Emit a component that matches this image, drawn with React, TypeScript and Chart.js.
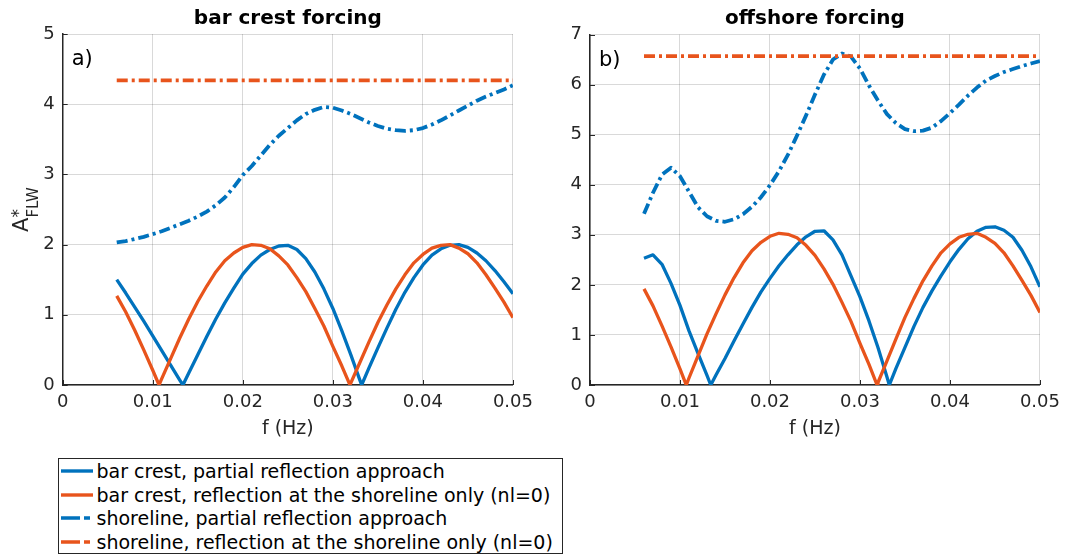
import React, { useEffect, useRef } from "react";
import { Chart, registerables } from "chart.js";

Chart.register(...registerables);

const FONT = "'DejaVu Sans', 'Liberation Sans', sans-serif";
const BLUE = "#0072BD";
const ORANGE = "#E8541C";
const AXIS = "#262626";
const GRID = "rgba(0,0,0,0.15)";

// Common frequency grid (Hz)
const freq = [
  0.006, 0.007, 0.008, 0.009, 0.010, 0.011, 0.012, 0.013, 0.014, 0.015, 0.016,
  0.017, 0.018, 0.019, 0.020, 0.021, 0.022, 0.023, 0.024, 0.025, 0.026, 0.027,
  0.028, 0.029, 0.030, 0.031, 0.032, 0.033, 0.034, 0.035, 0.036, 0.037, 0.038,
  0.039, 0.040, 0.041, 0.042, 0.043, 0.044, 0.045, 0.046, 0.047, 0.048, 0.049, 0.050,
];
const freqEnds = [0.006, 0.05];

// ---- a) bar crest forcing ----
const freqBarPartialA = [
  0.006, 0.007, 0.008, 0.009, 0.010, 0.011, 0.012, 0.013, 0.01335,
  0.014, 0.015, 0.016, 0.017, 0.018, 0.019, 0.020, 0.021, 0.022, 0.023, 0.024,
  0.025, 0.026, 0.027, 0.028, 0.029, 0.030, 0.031, 0.032, 0.033, 0.0332,
  0.034, 0.035, 0.036, 0.037, 0.038, 0.039, 0.040, 0.041, 0.042, 0.043, 0.044,
  0.045, 0.046, 0.047, 0.048, 0.049, 0.050,
];
const barPartialA = [
  1.50, 1.31, 1.11, 0.91, 0.70, 0.49, 0.28, 0.07, 0,
  0.17, 0.43, 0.69, 0.94, 1.17, 1.38, 1.58, 1.73, 1.85, 1.93, 1.98,
  1.99, 1.93, 1.80, 1.61, 1.37, 1.09, 0.77, 0.43, 0.07, 0,
  0.24, 0.53, 0.81, 1.08, 1.32, 1.53, 1.71, 1.85, 1.94, 1.99, 2.00,
  1.96, 1.88, 1.77, 1.63, 1.47, 1.30,
];
const freqShoreOnlyBar = [
  0.006, 0.007, 0.008, 0.009, 0.010, 0.0107,
  0.011, 0.012, 0.013, 0.014, 0.015, 0.016, 0.017, 0.018, 0.019, 0.020, 0.021,
  0.022, 0.023, 0.024, 0.025, 0.026, 0.027, 0.028, 0.029, 0.030, 0.031, 0.0319,
  0.032, 0.033, 0.034, 0.035, 0.036, 0.037, 0.038, 0.039, 0.040, 0.041, 0.042,
  0.043, 0.044, 0.045, 0.046, 0.047, 0.048, 0.049, 0.050,
];
const barShoreOnlyA = [
  1.27, 1.04, 0.78, 0.50, 0.21, 0,
  0.09, 0.38, 0.67, 0.94, 1.19, 1.41, 1.61, 1.77, 1.88, 1.96, 2.00,
  1.99, 1.94, 1.84, 1.71, 1.53, 1.33, 1.09, 0.84, 0.55, 0.27, 0,
  0.03, 0.32, 0.61, 0.89, 1.14, 1.37, 1.57, 1.74, 1.86, 1.95, 1.99,
  2.00, 1.95, 1.87, 1.74, 1.57, 1.38, 1.18, 0.96,
];
const shorePartialA = [
  2.03, 2.05, 2.08, 2.11, 2.15, 2.19, 2.24, 2.29, 2.34, 2.40, 2.47,
  2.56, 2.67, 2.82, 2.99, 3.12, 3.27, 3.42, 3.55, 3.66, 3.77, 3.86,
  3.92, 3.96, 3.95, 3.91, 3.86, 3.80, 3.74, 3.69, 3.65, 3.63, 3.62,
  3.63, 3.66, 3.71, 3.77, 3.84, 3.91, 3.98, 4.05, 4.11, 4.16, 4.21, 4.27,
];
const shoreOnlyA = [4.34, 4.34];

// ---- b) offshore forcing ----
const freqBarPartialB = [
  0.006, 0.007, 0.008, 0.009, 0.010, 0.011, 0.012, 0.013, 0.01342,
  0.014, 0.015, 0.016, 0.017, 0.018, 0.019, 0.020, 0.021, 0.022, 0.023, 0.024,
  0.025, 0.026, 0.027, 0.028, 0.029, 0.030, 0.031, 0.032, 0.033, 0.03326,
  0.034, 0.035, 0.036, 0.037, 0.038, 0.039, 0.040, 0.041, 0.042, 0.043, 0.044,
  0.045, 0.046, 0.047, 0.048, 0.049, 0.050,
];
const barPartialB = [
  2.53, 2.60, 2.41, 2.03, 1.59, 1.08, 0.63, 0.19, 0,
  0.20, 0.53, 0.88, 1.22, 1.55, 1.86, 2.13, 2.38, 2.60, 2.80, 2.96,
  3.07, 3.08, 2.90, 2.60, 2.18, 1.76, 1.28, 0.75, 0.16, 0,
  0.33, 0.75, 1.17, 1.55, 1.88, 2.18, 2.46, 2.71, 2.92, 3.07, 3.15,
  3.16, 3.09, 2.95, 2.69, 2.36, 1.96,
];
const barShoreOnlyB = [
  1.92, 1.58, 1.18, 0.76, 0.32, 0,
  0.14, 0.58, 1.02, 1.42, 1.80, 2.14, 2.44, 2.68, 2.85, 2.97, 3.03,
  3.01, 2.94, 2.79, 2.59, 2.32, 2.01, 1.65, 1.27, 0.83, 0.41, 0,
  0.05, 0.48, 0.92, 1.35, 1.73, 2.08, 2.38, 2.64, 2.82, 2.95, 3.01,
  3.03, 2.95, 2.83, 2.64, 2.38, 2.09, 1.79, 1.45,
];
const shorePartialB = [
  3.42, 3.84, 4.20, 4.34, 4.17, 3.86, 3.55, 3.37, 3.28, 3.26, 3.31,
  3.41, 3.56, 3.75, 3.99, 4.27, 4.60, 4.98, 5.38, 5.80, 6.20, 6.50,
  6.62, 6.56, 6.32, 5.98, 5.68, 5.41, 5.23, 5.11, 5.07, 5.08, 5.14,
  5.27, 5.43, 5.60, 5.78, 5.94, 6.08, 6.17, 6.25, 6.31, 6.37, 6.42, 6.47,
];
const shoreOnlyB = [6.57, 6.57];

// ---- axes ----
const xTicks = [0, 0.01, 0.02, 0.03, 0.04, 0.05];
const xTickLabels = ["0", "0.01", "0.02", "0.03", "0.04", "0.05"];
const yTicksA = [0, 1, 2, 3, 4, 5];
const yTicksB = [0, 1, 2, 3, 4, 5, 6, 7];

const legendEntries = [
  { label: "bar crest, partial reflection approach", color: BLUE, dashed: false },
  { label: "bar crest, reflection at the shoreline only (nl=0)", color: ORANGE, dashed: false },
  { label: "shoreline, partial reflection approach", color: BLUE, dashed: true },
  { label: "shoreline, reflection at the shoreline only (nl=0)", color: ORANGE, dashed: true },
];

const xy = (xs: number[], ys: number[]) => xs.map((x, i) => ({ x, y: ys[i] }));

// Titles, axis labels and inward tick marks
const decorations = {
  id: "decorations",
  afterDraw(chart: any, _args: any, opts: any) {
    const { ctx, chartArea: a, scales } = chart;
    ctx.save();
    ctx.strokeStyle = AXIS;
    ctx.lineWidth = 1;
    ctx.beginPath();
    for (const t of scales.x.ticks) {
      const px = Math.round(scales.x.getPixelForValue(t.value)) + 0.5;
      ctx.moveTo(px, a.bottom);
      ctx.lineTo(px, a.bottom - 5);
    }
    for (const t of scales.y.ticks) {
      const py = Math.round(scales.y.getPixelForValue(t.value)) + 0.5;
      ctx.moveTo(a.left, py);
      ctx.lineTo(a.left + 5, py);
    }
    ctx.stroke();

    const cx = (a.left + a.right) / 2;
    ctx.fillStyle = "#000";
    ctx.textAlign = "center";
    ctx.textBaseline = "middle";
    ctx.font = `bold 20px ${FONT}`;
    ctx.fillText(opts.title, cx, 19);

    ctx.fillStyle = AXIS;
    ctx.font = `19px ${FONT}`;
    ctx.fillText("f (Hz)", cx, 429);

    ctx.fillStyle = "#000";
    ctx.textAlign = "left";
    ctx.font = `21px ${FONT}`;
    ctx.fillText(opts.tag, a.left + 9, a.top + 26);

    if (opts.yLabel) {
      ctx.fillStyle = AXIS;
      ctx.translate(28, (a.top + a.bottom) / 2);
      ctx.rotate(-Math.PI / 2);
      ctx.textBaseline = "alphabetic";
      ctx.font = `21px ${FONT}`;
      const wA = ctx.measureText("A").width;
      ctx.font = `15px ${FONT}`;
      const wSub = ctx.measureText("FLW").width;
      const x0 = -(wA + wSub) / 2;
      ctx.font = `21px ${FONT}`;
      ctx.fillText("A", x0, 0);
      ctx.font = `17px ${FONT}`;
      ctx.fillText("*", x0 + wA, -4);
      ctx.font = `15px ${FONT}`;
      ctx.fillText("FLW", x0 + wA, 10);
    }
    ctx.restore();
  },
};

type PanelSpec = {
  title: string;
  tag: string;
  yLabel: boolean;
  yMax: number;
  yTicks: number[];
  yAxisWidth: number;
  padTop: number;
  padRight: number;
  barPartial: { x: number; y: number }[];
  barShoreOnly: { x: number; y: number }[];
  shorePartial: { x: number; y: number }[];
  shoreOnly: { x: number; y: number }[];
};

function buildConfig(p: PanelSpec): any {
  const tickFont = { family: FONT, size: 18 };
  return {
    type: "line",
    data: {
      datasets: [
        { data: p.shoreOnly, borderColor: ORANGE, borderWidth: 3.8, borderDash: [11, 4, 3, 4] },
        { data: p.shorePartial, borderColor: BLUE, borderWidth: 3.8, borderDash: [11, 4, 3, 4] },
        { data: p.barShoreOnly, borderColor: ORANGE, borderWidth: 3.3 },
        { data: p.barPartial, borderColor: BLUE, borderWidth: 3.3 },
      ],
    },
    options: {
      responsive: false,
      animation: false,
      layout: { padding: { top: p.padTop, right: p.padRight, left: 0, bottom: 0 } },
      elements: {
        point: { radius: 0 },
        line: { tension: 0, fill: false, borderCapStyle: "butt", borderJoinStyle: "round" },
      },
      plugins: {
        legend: { display: false },
        tooltip: { enabled: false },
        decorations: { title: p.title, tag: p.tag, yLabel: p.yLabel },
      },
      scales: {
        x: {
          type: "linear",
          min: 0,
          max: 0.05,
          afterBuildTicks: (s: any) => {
            s.ticks = xTicks.map((v) => ({ value: v }));
          },
          afterFit: (s: any) => {
            s.height = 55;
          },
          grid: { color: GRID, drawTicks: false, lineWidth: 1 },
          border: { display: true, color: AXIS, width: 1.5 },
          ticks: {
            padding: 7,
            color: AXIS,
            font: tickFont,
            maxRotation: 0,
            autoSkip: false,
            callback: (_v: any, i: number) => xTickLabels[i],
          },
        },
        y: {
          type: "linear",
          min: 0,
          max: p.yMax,
          afterBuildTicks: (s: any) => {
            s.ticks = p.yTicks.map((v) => ({ value: v }));
          },
          afterFit: (s: any) => {
            s.width = p.yAxisWidth;
          },
          grid: { color: GRID, drawTicks: false, lineWidth: 1 },
          border: { display: true, color: AXIS, width: 1.5 },
          ticks: {
            padding: 8,
            color: AXIS,
            font: tickFont,
            autoSkip: false,
            callback: (v: any) => String(v),
          },
        },
      },
    },
    plugins: [decorations],
  };
}

const panelA: PanelSpec = {
  title: "bar crest forcing",
  tag: "a)",
  yLabel: true,
  yMax: 5,
  yTicks: yTicksA,
  yAxisWidth: 62.7,
  padTop: 34,
  padRight: 24.3,
  barPartial: xy(freqBarPartialA, barPartialA),
  barShoreOnly: xy(freqShoreOnlyBar, barShoreOnlyA),
  shorePartial: xy(freq, shorePartialA),
  shoreOnly: xy(freqEnds, shoreOnlyA),
};

const panelB: PanelSpec = {
  title: "offshore forcing",
  tag: "b)",
  yLabel: false,
  yMax: 7,
  yTicks: yTicksB,
  yAxisWidth: 50,
  padTop: 34.5,
  padRight: 23.5,
  barPartial: xy(freqBarPartialB, barPartialB),
  barShoreOnly: xy(freqShoreOnlyBar, barShoreOnlyB),
  shorePartial: xy(freq, shorePartialB),
  shoreOnly: xy(freqEnds, shoreOnlyB),
};

function Panel({ spec, left, width }: { spec: PanelSpec; left: number; width: number }) {
  const ref = useRef<HTMLCanvasElement>(null);
  useEffect(() => {
    const chart = new Chart(ref.current as HTMLCanvasElement, buildConfig(spec));
    return () => chart.destroy();
  }, [spec]);
  return (
    <canvas
      ref={ref}
      width={width}
      height={440}
      style={{ position: "absolute", left, top: 0, width, height: 440, display: "block" }}
    />
  );
}

function Legend() {
  return (
    <div
      style={{
        position: "absolute",
        left: 58,
        top: 458,
        width: 505,
        height: 96,
        boxSizing: "border-box",
        border: `1.5px solid ${AXIS}`,
        background: "#fff",
        paddingTop: 0.5,
        fontFamily: FONT,
        fontSize: 19,
        color: "#000",
      }}
    >
      {legendEntries.map((e) => (
        <div
          key={e.label}
          style={{ display: "flex", alignItems: "center", height: 23.5, whiteSpace: "nowrap" }}
        >
          <svg width={32} height={6} style={{ marginLeft: 1.5, marginRight: 4, flex: "none" }}>
            <line
              x1={0}
              y1={3}
              x2={32}
              y2={3}
              stroke={e.color}
              strokeWidth={3.4}
              strokeDasharray={e.dashed ? "19 4 6 20" : undefined}
            />
          </svg>
          <span>{e.label}</span>
        </div>
      ))}
    </div>
  );
}

export default function App() {
  return (
    <div
      style={{
        position: "absolute",
        left: 0,
        top: 0,
        width: 1067,
        height: 554,
        overflow: "hidden",
        background: "#fff",
      }}
    >
      <Panel spec={panelA} left={0} width={540} />
      <Panel spec={panelB} left={540} width={527} />
      <Legend />
    </div>
  );
}
